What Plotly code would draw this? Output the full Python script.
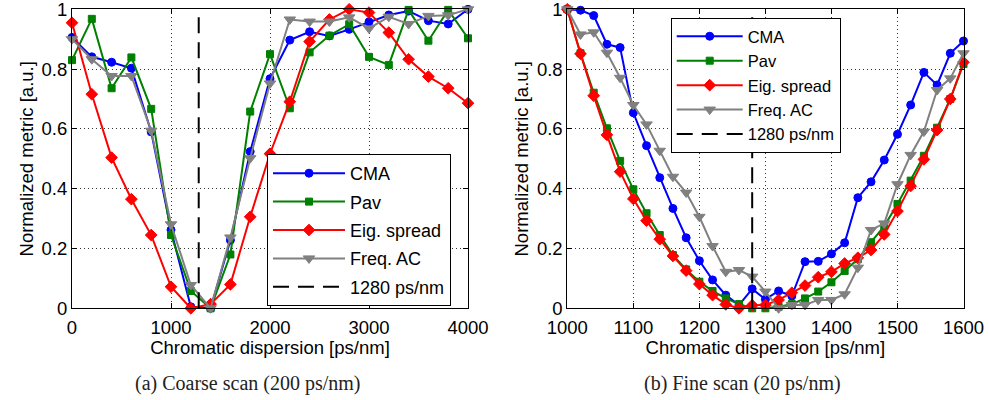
import plotly.graph_objects as go

# ---------------- data ----------------
coarse_cd = [0, 200, 400, 600, 800, 1000, 1200, 1400, 1600, 1800, 2000,
             2200, 2400, 2600, 2800, 3000, 3200, 3400, 3600, 3800, 4000]
coarse_cma = [0.906, 0.841, 0.823, 0.803, 0.59, 0.262, 0.005, 0.0, 0.228, 0.524, 0.768,
              0.897, 0.925, 0.911, 0.933, 0.958, 0.981, 0.994, 0.962, 0.951, 1.0]
coarse_pav = [0.83, 0.968, 0.736, 0.839, 0.667, 0.245, 0.058, 0.0, 0.18, 0.658, 0.85,
              0.669, 0.856, 0.912, 0.95, 0.841, 0.814, 0.998, 0.895, 0.998, 0.903]
coarse_eig = [0.955, 0.716, 0.504, 0.365, 0.245, 0.072, 0.0, 0.014, 0.08, 0.306, 0.517,
              0.691, 0.892, 0.966, 1.0, 0.989, 0.922, 0.833, 0.775, 0.736, 0.686]
coarse_fac = [0.9, 0.833, 0.777, 0.777, 0.594, 0.281, 0.078, 0.0, 0.237, 0.502, 0.752,
              0.966, 0.959, 0.959, 0.973, 0.936, 0.975, 0.951, 0.978, 0.98, 1.0]

fine_cd = [1000, 1020, 1040, 1060, 1080, 1100, 1120, 1140, 1160, 1180, 1200,
           1220, 1240, 1260, 1280, 1300, 1320, 1340, 1360, 1380, 1400,
           1420, 1440, 1460, 1480, 1500, 1520, 1540, 1560, 1580, 1600]
fine_cma = [1.0, 0.997, 0.979, 0.883, 0.872, 0.654, 0.544, 0.437, 0.334, 0.236, 0.159,
            0.095, 0.044, 0.011, 0.065, 0.03, 0.058, 0.041, 0.156, 0.157, 0.182,
            0.219, 0.37, 0.423, 0.496, 0.582, 0.68, 0.789, 0.747, 0.853, 0.894]
fine_pav = [1.0, 0.853, 0.721, 0.602, 0.493, 0.398, 0.318, 0.245, 0.178, 0.13, 0.089,
            0.058, 0.033, 0.014, 0.0, 0.0, 0.005, 0.014, 0.033, 0.056, 0.087,
            0.125, 0.164, 0.221, 0.275, 0.349, 0.427, 0.51, 0.604, 0.7, 0.817]
fine_eig = [1.0, 0.851, 0.711, 0.58, 0.457, 0.366, 0.293, 0.231, 0.175, 0.126, 0.081,
            0.044, 0.013, 0.0, 0.01, 0.011, 0.028, 0.052, 0.076, 0.104, 0.122,
            0.15, 0.169, 0.195, 0.247, 0.325, 0.409, 0.498, 0.596, 0.7, 0.823]
fine_fac = [1.0, 0.916, 0.923, 0.855, 0.771, 0.68, 0.615, 0.527, 0.44, 0.387, 0.306,
            0.208, 0.122, 0.128, 0.106, 0.056, 0.0, 0.011, 0.011, 0.028, 0.028,
            0.047, 0.136, 0.262, 0.284, 0.415, 0.513, 0.591, 0.73, 0.769, 0.853]

ref_cd = 1280
ref_label = "1280 ps/nm"
series_names = ["CMA", "Pav", "Eig. spread", "Freq. AC"]
y_ticks = [0, 0.2, 0.4, 0.6, 0.8, 1]
coarse_ticks = [0, 1000, 2000, 3000, 4000]
fine_ticks = [1000, 1100, 1200, 1300, 1400, 1500, 1600]

# ---------------- styles ----------------
colors = ["#0000FF", "#008000", "#FF0000", "#808080"]
symbols = ["circle", "square", "diamond", "triangle-down"]
msizes = [8, 7, 9, 10]
FONT = "Liberation Sans, Arial, Helvetica, sans-serif"
SERIF = "Liberation Serif, Times New Roman, serif"
TXT = 18.5

fig = go.Figure()

panels = [
    ("x", "y", "legend", coarse_cd, [coarse_cma, coarse_pav, coarse_eig, coarse_fac]),
    ("x2", "y2", "legend2", fine_cd, [fine_cma, fine_pav, fine_eig, fine_fac]),
]
for xa, ya, lg, xs, ys_list in panels:
    for i, ys in enumerate(ys_list):
        fig.add_trace(go.Scatter(
            x=xs, y=ys, mode="lines+markers", name=series_names[i],
            xaxis=xa, yaxis=ya, legend=lg, legendgroup=lg + str(i),
            line=dict(color=colors[i], width=2),
            marker=dict(symbol=symbols[i], size=msizes[i], color=colors[i],
                        line=dict(color=colors[i], width=1)),
            cliponaxis=False,
        ))
    fig.add_trace(go.Scatter(
        x=[ref_cd, ref_cd], y=[y_ticks[0], y_ticks[-1]], mode="lines", name=ref_label,
        xaxis=xa, yaxis=ya, legend=lg, legendgroup=lg + "ref",
        line=dict(color="black", width=2, dash="16px,9px"),
    ))

W = 989
H = 400


def fx(p):
    return p / W


def fy(p):
    return 1 - p / H


ydom = [fy(308.3), fy(9.3)]

axis_common = dict(
    showline=True, linecolor="black", linewidth=1, mirror="ticks",
    ticks="inside", ticklen=5, tickcolor="black", tickwidth=1,
    showgrid=True, gridcolor="#333", griddash="1px,3px", gridwidth=1,
    zeroline=False, automargin=False, ticklabeloverflow="allow",
    tickfont=dict(family=FONT, size=TXT, color="black"),
)
xtitle = dict(text="Chromatic dispersion [ps/nm]", font=dict(family=FONT, size=TXT), standoff=4)
ytitle = dict(text="Normalized metric [a.u.]", font=dict(family=FONT, size=TXT), standoff=3)

legend_common = dict(
    xanchor="left", yanchor="top", bgcolor="white", bordercolor="black", borderwidth=1,
    traceorder="grouped",
)

fig.update_layout(
    width=W, height=H,
    margin=dict(l=0, r=0, t=0, b=0),
    paper_bgcolor="white", plot_bgcolor="white",
    font=dict(family=FONT, color="black"),
    xaxis=dict(domain=[fx(72), fx(468)], range=[0, 4000], tickvals=coarse_ticks,
               title=xtitle, anchor="y", ticklabelstandoff=2, **axis_common),
    yaxis=dict(domain=ydom, range=[0, 1], tickvals=y_ticks,
               title=ytitle, anchor="x", **axis_common),
    xaxis2=dict(domain=[fx(567.3), fx(963.5)], range=[1000, 1600], tickvals=fine_ticks,
                title=xtitle, anchor="y2", ticklabelstandoff=2, **axis_common),
    yaxis2=dict(domain=ydom, range=[0, 1], tickvals=y_ticks,
                title=ytitle, anchor="x2", **axis_common),
    legend=dict(x=fx(267), y=fy(154), tracegroupgap=2, itemwidth=72,
                font=dict(family=FONT, size=18, color="black"), **legend_common),
    legend2=dict(x=fx(670.7), y=fy(18), tracegroupgap=0, itemwidth=66,
                 font=dict(family=FONT, size=16.5, color="black"), **legend_common),
    annotations=[
        dict(text="(a) Coarse scan (200 ps/nm)", x=fx(247.5), y=fy(383),
             xref="paper", yref="paper", xanchor="center", yanchor="middle",
             showarrow=False, font=dict(family=SERIF, size=20, color="#222")),
        dict(text="(b) Fine scan (20 ps/nm)", x=fx(742.5), y=fy(383),
             xref="paper", yref="paper", xanchor="center", yanchor="middle",
             showarrow=False, font=dict(family=SERIF, size=20, color="#222")),
    ],
)

fig.write_html("out.html", config={"displayModeBar": False},
               post_script="document.body.style.margin='0';")
